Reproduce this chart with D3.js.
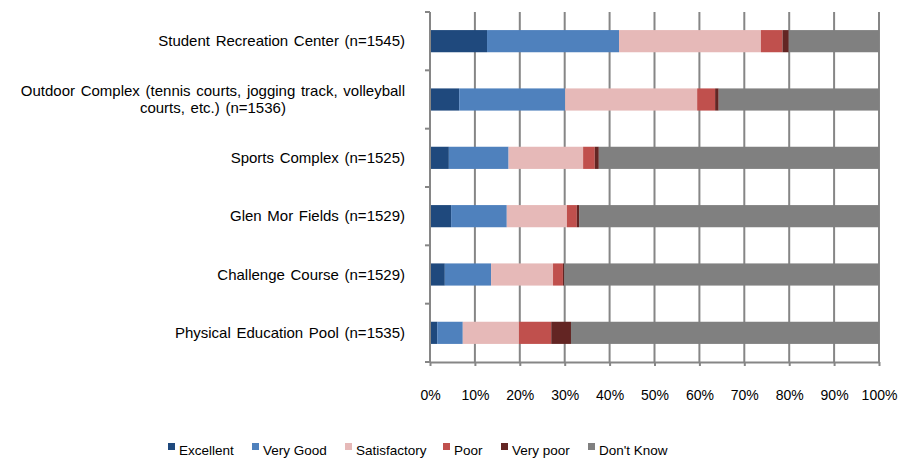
<!DOCTYPE html>
<html>
<head>
<meta charset="utf-8">
<script src="https://cdn.jsdelivr.net/npm/d3@7"></script>
<style>
  body { margin: 0; background: #fff; }
  text { font-family: "Liberation Sans", Arial, sans-serif; fill: #000; }
</style>
</head>
<body>
<svg width="901" height="459"></svg>
<script>
// categories, top to bottom
var facilities = [
  'Student Recreation Center (n=1545)',
  'Outdoor Complex (tennis courts, jogging track, volleyball|courts, etc.) (n=1536)',
  'Sports Complex (n=1525)',
  'Glen Mor Fields (n=1529)',
  'Challenge Course (n=1529)',
  'Physical Education  Pool (n=1535)'
];
var ratings = ['Excellent', 'Very Good', 'Satisfactory', 'Poor', 'Very poor', "Don't Know"];
var ratingColors = ['#1f497d', '#4f81bd', '#e6b9b8', '#c0504d', '#632523', '#808080'];
// percentages per rating, one entry per facility
var excellent    = [12.7,  6.5,  4.2,  4.7,  3.3,  1.6];
var veryGood     = [29.4, 23.6, 13.3, 12.4, 10.3,  5.7];
var satisfactory = [31.6, 29.4, 16.6, 13.4, 13.8, 12.5];
var poor         = [ 4.8,  4.0,  2.6,  2.2,  2.2,  7.2];
var veryPoor     = [ 1.4,  0.8,  0.9,  0.5,  0.3,  4.4];
var dontKnow     = [20.1, 35.7, 62.4, 66.8, 70.1, 68.6];
var tickValues = [0, 0.1, 0.2, 0.3, 0.4, 0.5, 0.6, 0.7, 0.8, 0.9, 1];

var series = [excellent, veryGood, satisfactory, poor, veryPoor, dontKnow];
var rows = facilities.map(function (f, i) {
  var r = { name: f };
  ratings.forEach(function (k, j) { r[k] = series[j][i]; });
  return r;
});
// normalise each row to 100%
rows.forEach(function (r) {
  var t = d3.sum(ratings, function (k) { return r[k]; });
  ratings.forEach(function (k) { r[k] = r[k] / t; });
});

var svg = d3.select('svg');
var plotLeft = 430, plotRight = 879, plotTop = 12, plotBottom = 362;

var x = d3.scaleLinear().domain([0, 1]).range([plotLeft, plotRight]);
var y = d3.scaleBand().domain(facilities).range([plotTop, plotBottom]).paddingInner(0.62).paddingOuter(0.31);

// gridlines
svg.append('g').selectAll('line').data(tickValues).join('line')
  .attr('x1', function (d) { return x(d); }).attr('x2', function (d) { return x(d); })
  .attr('y1', plotTop).attr('y2', plotBottom)
  .attr('stroke', '#868686').attr('stroke-width', 2);

// stacked bars
var stack = d3.stack().keys(ratings)(rows);
svg.append('g').selectAll('g').data(stack).join('g')
  .attr('fill', function (d, i) { return ratingColors[i]; })
  .selectAll('rect').data(function (d) { return d; }).join('rect')
  .attr('x', function (d) { return x(d[0]); })
  .attr('width', function (d) { return x(d[1]) - x(d[0]); })
  .attr('y', function (d) { return y(d.data.name); })
  .attr('height', y.bandwidth());

// x axis
var xAxis = svg.append('g').attr('transform', 'translate(0,' + plotBottom + ')')
  .call(d3.axisBottom(x).tickValues(tickValues).tickFormat(d3.format('.0%')).tickSizeInner(4).tickSizeOuter(0).tickPadding(24));
xAxis.select('.domain').attr('stroke', '#868686').attr('stroke-width', 2);
xAxis.selectAll('.tick line').attr('stroke', '#868686').attr('stroke-width', 2);
xAxis.selectAll('text').attr('font-size', 14).attr('font-family', '"Liberation Sans", Arial, sans-serif');

// y axis line and category boundary ticks
var bounds = d3.range(facilities.length + 1).map(function (i) { return plotTop + i * (plotBottom - plotTop) / facilities.length; });
svg.append('line').attr('x1', plotLeft).attr('x2', plotLeft).attr('y1', plotTop).attr('y2', plotBottom)
  .attr('stroke', '#868686').attr('stroke-width', 2);
svg.append('g').selectAll('line').data(bounds).join('line')
  .attr('x1', plotLeft - 5).attr('x2', plotLeft).attr('y1', function (d) { return d; }).attr('y2', function (d) { return d; })
  .attr('stroke', '#868686').attr('stroke-width', 2);

// category labels
var labelG = svg.append('g');
facilities.forEach(function (f) {
  var lines = f.split('|');
  var cy = y(f) + y.bandwidth() / 2;
  var lh = 17;
  var y0 = cy - (lines.length - 1) * lh / 2 + 5;
  var first = labelG.append('text')
    .attr('x', 405).attr('y', y0).attr('text-anchor', 'end')
    .attr('font-size', 15).attr('word-spacing', 1.5)
    .text(lines[0]);
  if (lines.length > 1) {
    var w = first.node().getComputedTextLength();
    labelG.append('text')
      .attr('x', 405 - w / 2).attr('y', y0 + lh).attr('text-anchor', 'middle')
      .attr('font-size', 15).attr('word-spacing', 1.5)
      .text(lines[1]);
  }
});

// legend
var legendX = [168, 252, 345, 443, 501, 588];
var legend = svg.append('g').selectAll('g').data(ratings).join('g')
  .attr('transform', function (d, i) { return 'translate(' + legendX[i] + ',443)'; });
legend.append('rect').attr('width', 7).attr('height', 7)
  .attr('fill', function (d, i) { return ratingColors[i]; });
legend.append('text').attr('x', 11).attr('y', 12).attr('font-size', 13.5)
  .text(function (d) { return d; });
</script>
</body>
</html>
